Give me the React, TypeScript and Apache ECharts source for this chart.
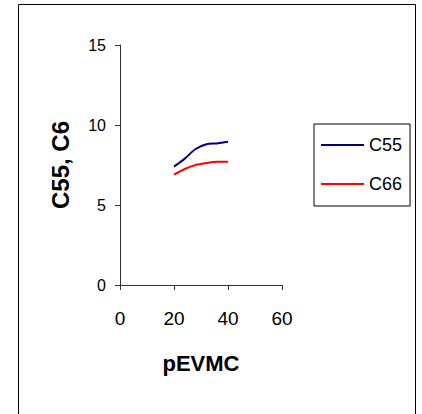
import React, { useEffect, useRef } from "react";
import * as echarts from "echarts";

const xTicks = [0, 20, 40, 60];
const yTicks = [0, 5, 10, 15];
const pEVMC = [20, 24, 28, 32, 36, 40];
const c55 = [7.4, 7.9, 8.5, 8.8, 8.85, 8.95];
const c66 = [6.9, 7.25, 7.5, 7.62, 7.7, 7.7];
const seriesNames = ["C55", "C66"];
const xTitle = "pEVMC";
const yTitle = "C55, C66";

export default function App() {
  const ref = useRef<HTMLDivElement>(null);
  useEffect(() => {
    if (!ref.current) return;
    const chart = echarts.init(ref.current, null, { renderer: "svg" });
    const font = "Liberation Sans, Arial, sans-serif";
    chart.setOption({
      animation: false,
      backgroundColor: "#ffffff",
      textStyle: { fontFamily: font },
      graphic: [
        {
          type: "rect",
          shape: { x: 18.5, y: 4.5, width: 397, height: 420 },
          style: { fill: "none", stroke: "#000", lineWidth: 1 },
          silent: true,
        },
      ],
      grid: { left: 120, top: 45, width: 162, height: 240, containLabel: false },
      legend: {
        orient: "vertical",
        left: 314,
        top: 124,
        padding: [11, 8, 12, 7],
        itemGap: 19,
        itemWidth: 43,
        itemHeight: 2,
        icon: "rect",
        borderColor: "#000",
        borderWidth: 1,
        textStyle: { fontSize: 18, lineHeight: 20, color: "#000", fontFamily: font },
        data: seriesNames,
      },
      xAxis: {
        type: "value",
        min: xTicks[0],
        max: xTicks[xTicks.length - 1],
        interval: 20,
        name: xTitle,
        nameLocation: "middle",
        nameGap: 67,
        nameTextStyle: { fontSize: 22, fontWeight: "bold", color: "#000", fontFamily: font },
        axisLine: { lineStyle: { color: "#333", width: 1 } },
        axisTick: { show: true, length: 5, lineStyle: { color: "#333" } },
        axisLabel: { fontSize: 19, color: "#000", margin: 24, fontFamily: font },
        splitLine: { show: false },
      },
      yAxis: {
        type: "value",
        min: yTicks[0],
        max: yTicks[yTicks.length - 1],
        interval: 5,
        name: yTitle,
        nameLocation: "middle",
        nameGap: 48,
        nameRotate: 90,
        nameTruncate: { maxWidth: 92, ellipsis: "" },
        nameTextStyle: {
          fontSize: 24,
          fontWeight: "bold",
          color: "#000",
          fontFamily: font,
        },
        axisLine: { show: true, lineStyle: { color: "#333", width: 1 } },
        axisTick: { show: true, length: 5, lineStyle: { color: "#333" } },
        axisLabel: { fontSize: 16, color: "#000", margin: 14, fontFamily: font },
        splitLine: { show: false },
      },
      series: [
        {
          name: seriesNames[0],
          type: "line",
          smooth: 0.3,
          symbol: "none",
          data: pEVMC.map((x, i) => [x, c55[i]]),
          lineStyle: { color: "#000080", width: 2 },
          itemStyle: { color: "#000080" },
        },
        {
          name: seriesNames[1],
          type: "line",
          smooth: 0.3,
          symbol: "none",
          data: pEVMC.map((x, i) => [x, c66[i]]),
          lineStyle: { color: "#ff0000", width: 2 },
          itemStyle: { color: "#ff0000" },
        },
      ],
    });
    return () => chart.dispose();
  }, []);
  return (
    <div
      ref={ref}
      style={{ position: "fixed", left: 0, top: 0, width: 422, height: 414 }}
    />
  );
}
